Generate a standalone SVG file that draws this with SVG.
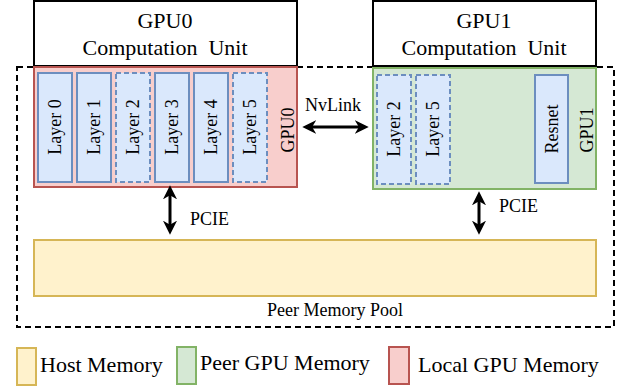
<svg xmlns="http://www.w3.org/2000/svg" width="628" height="387" viewBox="0 0 628 387">
<defs>
<style>
text{font-family:"Liberation Serif","Times New Roman",serif;fill:#000}
.big{font-size:22px}
.mid{font-size:18px}
.unit{fill:#fff;stroke:#000;stroke-width:2}
.red{fill:#f8cecc;stroke:#b85450;stroke-width:2}
.green{fill:#d5e8d4;stroke:#82b366;stroke-width:2}
.yellow{fill:#fff2cc;stroke:#d6b656;stroke-width:2}
.layer{fill:#dae8fc;stroke:#6c8ebf;stroke-width:2}
.dash{stroke-dasharray:5,3}
.conn{stroke:#000;stroke-width:3;fill:none;marker-start:url(#ah);marker-end:url(#ah)}
</style>
<marker id="ah" viewBox="0 0 10 10" refX="7" refY="5" markerWidth="4.7" markerHeight="4.7" orient="auto-start-reverse" markerUnits="strokeWidth">
<path d="M0,0 L10,5 L0,10 L3,5 Z" fill="#000"/>
</marker>
</defs>
<rect id="pool" x="17" y="67" width="597" height="260" fill="none" stroke="#000" stroke-width="2" stroke-dasharray="6,4"/>
<g id="gpu0-unit"><rect class="unit" x="34" y="1" width="263" height="65"/>
<text class="big" x="165" y="28" text-anchor="middle">GPU0</text>
<text class="big" x="165" y="55" text-anchor="middle" xml:space="preserve">Computation  Unit</text></g>
<g id="gpu1-unit"><rect class="unit" x="373" y="1" width="223" height="65"/>
<text class="big" x="484" y="28" text-anchor="middle">GPU1</text>
<text class="big" x="484" y="55" text-anchor="middle" xml:space="preserve">Computation  Unit</text></g>
<g id="gpu0"><rect class="red" x="34" y="67" width="263" height="120"/>
<text class="mid" transform="translate(288,130) rotate(-90)" text-anchor="middle" dominant-baseline="central">GPU0</text></g>
<g id="gpu1"><rect class="green" x="373" y="68" width="223" height="121"/>
<text class="mid" transform="translate(587,130) rotate(-90)" text-anchor="middle" dominant-baseline="central">GPU1</text></g>
<g id="g0-layer0"><rect class="layer" x="38" y="73" width="34" height="109"/><text class="mid" transform="translate(55,127) rotate(-90)" text-anchor="middle" dominant-baseline="central">Layer 0</text></g>
<g id="g0-layer1"><rect class="layer" x="77" y="73" width="34" height="109"/><text class="mid" transform="translate(94,127) rotate(-90)" text-anchor="middle" dominant-baseline="central">Layer 1</text></g>
<g id="g0-layer2"><rect class="layer dash" x="116" y="73" width="34" height="109"/><text class="mid" transform="translate(133,127) rotate(-90)" text-anchor="middle" dominant-baseline="central">Layer 2</text></g>
<g id="g0-layer3"><rect class="layer" x="155" y="73" width="34" height="109"/><text class="mid" transform="translate(172,127) rotate(-90)" text-anchor="middle" dominant-baseline="central">Layer 3</text></g>
<g id="g0-layer4"><rect class="layer" x="194" y="73" width="34" height="109"/><text class="mid" transform="translate(211,127) rotate(-90)" text-anchor="middle" dominant-baseline="central">Layer 4</text></g>
<g id="g0-layer5"><rect class="layer dash" x="233" y="73" width="34" height="109"/><text class="mid" transform="translate(250,127) rotate(-90)" text-anchor="middle" dominant-baseline="central">Layer 5</text></g>
<g id="g1-layer2"><rect class="layer dash" x="377" y="75" width="34" height="109"/><text class="mid" transform="translate(394,129) rotate(-90)" text-anchor="middle" dominant-baseline="central">Layer 2</text></g>
<g id="g1-layer5"><rect class="layer dash" x="416" y="75" width="34" height="109"/><text class="mid" transform="translate(433,129) rotate(-90)" text-anchor="middle" dominant-baseline="central">Layer 5</text></g>
<g id="resnet"><rect class="layer" x="535" y="75" width="33" height="108"/><text class="mid" transform="translate(551.5,129) rotate(-90)" text-anchor="middle" dominant-baseline="central">Resnet</text></g>
<g id="host"><rect class="yellow" x="34" y="240" width="562" height="56"/></g>
<text class="mid" x="335" y="316" text-anchor="middle">Peer Memory Pool</text>
<g id="connectors">
<line class="conn" x1="306.5" y1="127" x2="364.5" y2="127"/>
<line class="conn" x1="170" y1="189.5" x2="170" y2="230.5"/>
<line class="conn" x1="479" y1="195.5" x2="479" y2="230.5"/>
<text class="mid" x="333" y="111" text-anchor="middle">NvLink</text>
<text class="mid" x="190" y="225">PCIE</text>
<text class="mid" x="499" y="212">PCIE</text>
</g>
<g id="legend">
<rect class="yellow" x="17" y="348" width="19" height="37"/>
<text class="big" x="40" y="372">Host Memory</text>
<rect class="green" x="177" y="347" width="19" height="37"/>
<text class="big" x="200" y="370">Peer GPU Memory</text>
<rect class="red" x="389" y="347" width="20" height="37"/>
<text class="big" x="418" y="372">Local GPU Memory</text>
</g>
</svg>
